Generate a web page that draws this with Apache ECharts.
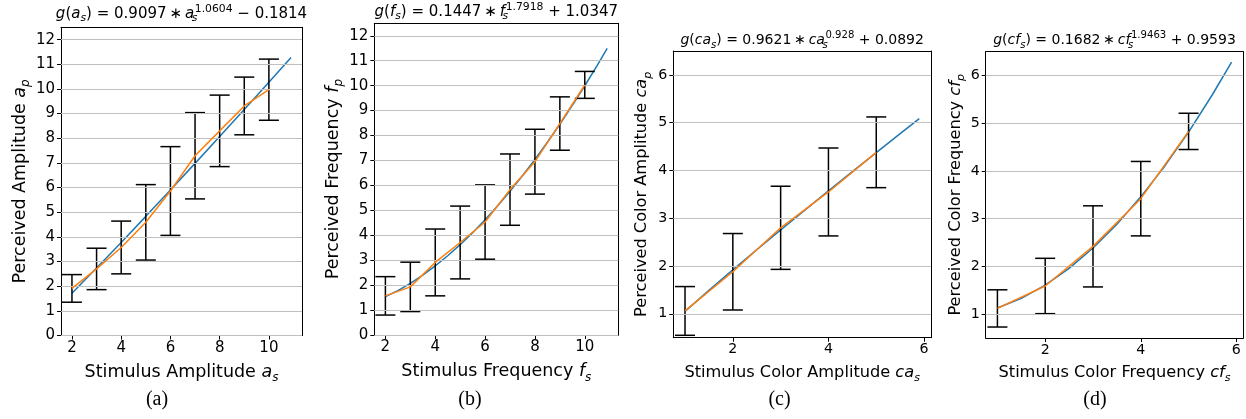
<!DOCTYPE html>
<html><head><meta charset="utf-8">
<script src="https://cdn.jsdelivr.net/npm/echarts@6/dist/echarts.min.js"></script>
<style>html,body{margin:0;padding:0;background:#fff}#c{width:1246px;height:419px}</style>
</head><body><div id="c"></div>
<script>
// ---------- data ----------
const levelsAB = [2, 3, 4, 5, 6, 7, 8, 9, 10];
const levelsCD = [1, 2, 3, 4, 5];

const meanA = [1.91, 2.70, 3.57, 4.59, 5.86, 7.29, 8.30, 9.31, 9.97];
const errA  = [0.56, 0.84, 1.07, 1.53, 1.80, 1.75, 1.45, 1.17, 1.24];
const meanB = [1.57, 1.93, 2.91, 3.71, 4.53, 5.83, 6.95, 8.48, 10.03];
const errB  = [0.77, 0.99, 1.34, 1.46, 1.49, 1.43, 1.30, 1.07, 0.54];
const meanC = [1.06, 1.88, 2.80, 3.55, 4.38];
const errC  = [0.51, 0.80, 0.87, 0.92, 0.74];
const meanD = [1.12, 1.59, 2.42, 3.42, 4.83];
const errD  = [0.39, 0.58, 0.85, 0.78, 0.38];

const fitXA = [2, 3, 4, 5, 6, 7, 8, 9, 10, 10.9];
const fitA  = [1.716, 2.735, 3.775, 4.832, 5.901, 6.981, 8.070, 9.168, 10.274, 11.274];
const fitXB = [2, 2.5, 3, 3.5, 4, 4.5, 5, 5.5, 6, 6.5, 7, 7.5, 8, 8.5, 9, 9.5, 10, 10.5, 10.9];
const fitB  = [1.536, 1.782, 2.071, 2.400, 2.770, 3.177, 3.622, 4.104, 4.622, 5.175, 5.764, 6.384, 7.040, 7.730, 8.452, 9.207, 9.995, 10.814, 11.492];
const fitXC = [1, 1.5, 2, 2.5, 3, 3.5, 4, 4.5, 5, 5.5, 5.9];
const fitC  = [1.051, 1.491, 1.920, 2.341, 2.756, 3.166, 3.572, 3.974, 4.373, 4.770, 5.085];
const fitXD = [1, 1.5, 2, 2.5, 3, 3.5, 4, 4.5, 5, 5.5, 5.9];
const fitD  = [1.128, 1.330, 1.608, 1.960, 2.386, 2.886, 3.458, 4.101, 4.816, 5.603, 6.283];

const xTicksAB = [2, 4, 6, 8, 10];
const yTicksAB = [0, 1, 2, 3, 4, 5, 6, 7, 8, 9, 10, 11, 12];
const xTicksCD = [2, 4, 6];
const yTicksCD = [1, 2, 3, 4, 5, 6];

const titles = [
  '{it|g}({it|a}{sub|s}) = 0.9097\u2009∗\u2009{it|a}{subw|s}{sup|1.0604} − 0.1814',
  '{it|g}({it|f}{sub|s}) = 0.1447\u2009∗\u2009{it|f}{subw|s}{sup|1.7918} + 1.0347',
  '{it|g}({it|ca}{sub|s}) = 0.9621\u2009∗\u2009{it|ca}{subw|s}{sup|0.928} + 0.0892',
  '{it|g}({it|cf}{sub|s}) = 0.1682\u2009∗\u2009{it|cf}{subw|s}{sup|1.9463} + 0.9593'
];
const xNames = [
  'Stimulus Amplitude {it|a}{sub|s}',
  'Stimulus Frequency {it|f}{sub|s}',
  'Stimulus Color Amplitude {it|ca}{sub|s}',
  'Stimulus Color Frequency {it|cf}{sub|s}'
];
const yNames = [
  'Perceived Amplitude {it|a}{sub|p}',
  'Perceived Frequency {it|f}{sub|p}',
  'Perceived Color Amplitude {it|ca}{sub|p}',
  'Perceived Color Frequency {it|cf}{sub|p}'
];
const captions = ['(a)', '(b)', '(c)', '(d)'];

// ---------- layout ----------
const FONT = 'DejaVu Sans';
const panels = [
  {box: [61, 27.3, 241, 308.2], xr: [1.555, 11.345], yr: [0, 12.5], xt: xTicksAB, yt: yTicksAB,
   lv: levelsAB, mean: meanA, err: errA, fx: fitXA, fy: fitA, cap: 157, ty: 14, ts: 15,
   nfs: 17.5, tfs: 15, xg: 21, yg: 26},
  {box: [374.3, 23.3, 244, 311.7], xr: [1.555, 11.345], yr: [0, 12.5], xt: xTicksAB, yt: yTicksAB,
   lv: levelsAB, mean: meanB, err: errB, fx: fitXB, fy: fitB, cap: 470, ty: 12, ts: 15,
   nfs: 17.5, tfs: 15, xg: 21, yg: 27.5},
  {box: [673.3, 51, 257.7, 286.7], xr: [0.755, 6.145], yr: [0.5, 6.5], xt: xTicksCD, yt: yTicksCD,
   lv: levelsCD, mean: meanC, err: errC, fx: fitXC, fy: fitC, cap: 779.5, ty: 40, ts: 14,
   nfs: 16.2, tfs: 14.2, xg: 19, yg: 20},
  {box: [985.7, 51.7, 257.6, 286.3], xr: [0.755, 6.145], yr: [0.5, 6.5], xt: xTicksCD, yt: yTicksCD,
   lv: levelsCD, mean: meanD, err: errD, fx: fitXD, fy: fitD, cap: 1095, ty: 40, ts: 14,
   nfs: 16.2, tfs: 14.2, xg: 19, yg: 19}
];

const nameRich = (fs) => ({
  it: {fontFamily: FONT, fontStyle: 'italic', fontSize: fs, lineHeight: fs + 6},
  sub: {fontFamily: FONT, fontStyle: 'italic', fontSize: Math.round(fs * 0.7), lineHeight: Math.round(fs * 0.7) + 2, verticalAlign: 'bottom'}
});
const titleRich = (fs) => ({
  it: {fontFamily: FONT, fontStyle: 'italic', fontSize: fs, lineHeight: 20},
  sub: {fontFamily: FONT, fontStyle: 'italic', fontSize: fs * 0.72, lineHeight: 12, verticalAlign: 'bottom'},
  subw: {fontFamily: FONT, fontStyle: 'italic', fontSize: fs * 0.72, lineHeight: 12, verticalAlign: 'bottom', width: 0.5},
  sup: {fontFamily: FONT, fontSize: fs * 0.72, lineHeight: 8, verticalAlign: 'top'}
});

const grid = [], xAxis = [], yAxis = [], series = [], graphic = [];
const frameX = [], frameY = [];
panels.forEach((p, i) => {
  const [l, t, w, h] = p.box;
  grid.push({left: l, top: t, width: w, height: h, show: false, containLabel: false});
  xAxis.push({type: 'value', gridIndex: i, min: p.xr[0], max: p.xr[1],
    axisLine: {show: true, onZero: false, lineStyle: {color: '#000', width: 1}},
    axisTick: {show: true, customValues: p.xt, length: 4, lineStyle: {color: '#000'}},
    axisLabel: {customValues: p.xt, color: '#000', fontFamily: FONT, fontSize: p.tfs, margin: 5},
    splitLine: {show: false},
    name: xNames[i], nameLocation: 'middle', nameGap: p.xg,
    nameTextStyle: {fontFamily: FONT, fontSize: p.nfs, color: '#000', lineHeight: p.nfs + 5, rich: nameRich(p.nfs)}
  });
  yAxis.push({type: 'value', gridIndex: i, min: p.yr[0], max: p.yr[1],
    axisLine: {show: true, onZero: false, lineStyle: {color: '#000', width: 1}},
    axisTick: {show: true, customValues: p.yt, length: 4, lineStyle: {color: '#000'}},
    axisLabel: {customValues: p.yt, color: '#000', fontFamily: FONT, fontSize: p.tfs, margin: 6},
    splitLine: {show: false},
    name: yNames[i], nameLocation: 'middle', nameRotate: 90, nameGap: p.yg,
    nameTextStyle: {fontFamily: FONT, fontSize: p.nfs, color: '#000', lineHeight: p.nfs + 5, rich: nameRich(p.nfs)}
  });
  // frame axes (top / right spines)
  frameX.push({type: 'value', gridIndex: i, position: 'top', min: p.xr[0], max: p.xr[1],
    axisLine: {show: true, onZero: false, lineStyle: {color: '#000', width: 1}},
    axisTick: {show: false}, axisLabel: {show: false}, splitLine: {show: false}});
  frameY.push({type: 'value', gridIndex: i, position: 'right', min: p.yr[0], max: p.yr[1],
    axisLine: {show: true, onZero: false, lineStyle: {color: '#000', width: 1}},
    axisTick: {show: false}, axisLabel: {show: false}, splitLine: {show: false}});

  // gridlines at tick values
  series.push({type: 'line', xAxisIndex: i, yAxisIndex: i, data: [], silent: true, z: 1,
    markLine: {silent: true, symbol: ['none', 'none'], label: {show: false},
      lineStyle: {color: '#c0c0c0', width: 1.2, type: 'solid'},
      data: p.yt.map(v => ({yAxis: v}))}});
  // fit curve (blue)
  series.push({type: 'line', xAxisIndex: i, yAxisIndex: i, showSymbol: false, smooth: false, z: 3,
    lineStyle: {color: '#1f77b4', width: 1.5}, data: p.fx.map((x, k) => [x, p.fy[k]])});
  // error bars
  series.push({type: 'custom', xAxisIndex: i, yAxisIndex: i, z: 4,
    data: p.lv.map((x, k) => [x, p.mean[k] - p.err[k], p.mean[k] + p.err[k]]),
    renderItem: (params, api) => {
      const lo = api.coord([api.value(0), api.value(1)]);
      const hi = api.coord([api.value(0), api.value(2)]);
      const hw = 10;
      const st = {stroke: '#000', lineWidth: 1.5};
      return {type: 'group', children: [
        {type: 'line', shape: {x1: lo[0], y1: lo[1], x2: hi[0], y2: hi[1]}, style: st},
        {type: 'line', shape: {x1: lo[0] - hw, y1: lo[1], x2: lo[0] + hw, y2: lo[1]}, style: st},
        {type: 'line', shape: {x1: hi[0] - hw, y1: hi[1], x2: hi[0] + hw, y2: hi[1]}, style: st}
      ]};
    }});
  // means (orange)
  series.push({type: 'line', xAxisIndex: i, yAxisIndex: i, showSymbol: false, z: 5,
    lineStyle: {color: '#ff7f0e', width: 1.5}, data: p.lv.map((x, k) => [x, p.mean[k]])});

  graphic.push({type: 'text', x: l + w / 2, y: p.ty, z: 10,
    style: {text: titles[i], x: 0, y: 0, align: 'center', verticalAlign: 'middle',
      fontFamily: FONT, fontSize: p.ts, lineHeight: 20, fill: '#000', rich: titleRich(p.ts)}});
  graphic.push({type: 'text', x: p.cap, y: 400, z: 10,
    style: {text: captions[i], align: 'center', verticalAlign: 'middle',
      fontFamily: 'Liberation Serif', fontSize: 20, fill: '#000'}});
});

const chart = echarts.init(document.getElementById('c'), null, {renderer: 'canvas'});
chart.setOption({animation: false, backgroundColor: '#fff', grid,
  xAxis: xAxis.concat(frameX), yAxis: yAxis.concat(frameY), series, graphic});
</script></body></html>
